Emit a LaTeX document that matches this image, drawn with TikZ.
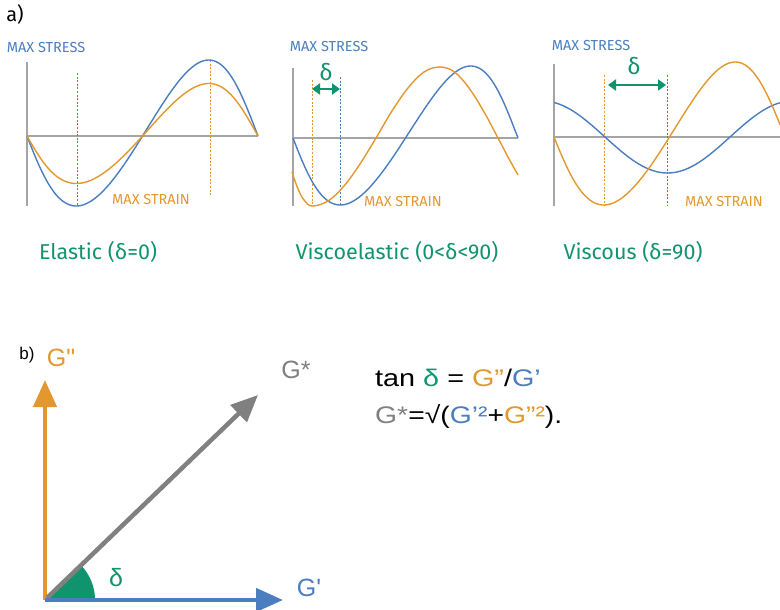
\documentclass[tikz,border=0pt]{standalone}
\usepackage{fontspec}
\setmainfont{Liberation Sans}
\newfontfamily\rawsans{Liberation Sans}
\newfontfamily\fira{Fira Sans}
\usetikzlibrary{arrows.meta}
\definecolor{cblue}{RGB}{74,126,192}
\definecolor{corange}{RGB}{226,152,46}
\definecolor{cgreen}{RGB}{16,148,110}
\definecolor{cgray}{RGB}{128,128,128}
\definecolor{caxis}{RGB}{165,165,165}
\tikzset{
  axisline/.style={caxis, line width=1.4pt},
  curve/.style={line width=1.4pt},
  vdot/.style={line width=1pt, dash pattern=on 2pt off 1.6pt},
  smallcap/.style={font=\fira\fontsize{14.5}{14.5}\selectfont, inner sep=0pt},
  caption/.style={font=\fira\fontsize{21.5}{21.5}\selectfont, cgreen, inner sep=0pt},
  deltalbl/.style={font=\fira\fontsize{23}{23}\selectfont, cgreen, inner sep=0pt},
  deltaarrow/.style={cgreen, line width=2.8pt, {Triangle[length=8pt,width=11pt]}-{Triangle[length=8pt,width=11pt]}},
  bigvec/.style={line width=4.5pt, -{Triangle[length=27pt,width=23pt]}},
  blabel/.style={font=\rawsans\fontsize{25}{25}\selectfont, inner sep=0pt},
  formula/.style={font=\fontsize{24}{24}\selectfont, inner sep=0pt, anchor=west},
}
\begin{document}
\begin{tikzpicture}[x=1pt,y=-1pt]
\useasboundingbox (0,0) rectangle (780,610);

\node[font=\fira\fontsize{20}{20}\selectfont, inner sep=0pt] (la) at (15,15) {a)};

% ---------- panel 1: elastic ----------
\coordinate (p1top) at (27,62); \coordinate (p1bot) at (27,206);
\coordinate (p1l) at (27,136); \coordinate (p1r) at (258,136);
\draw[axisline] (p1top) -- (p1bot);
\draw[axisline] (p1l) -- (p1r);
\coordinate (d1a) at (77,73); \coordinate (d1b) at (77,206);
\coordinate (d2a) at (210,60); \coordinate (d2b) at (210,195);
\draw[vdot, cblue] (d1a) -- (d1b);
\draw[vdot, corange] (d2a) -- (d2b);
\draw[curve, cblue] plot[domain=0:360,samples=120,variable=\t] ({27+0.641667*\t-8.5*sin(\t)},{136+(73-3*sin(\t))*sin(\t)});
\draw[curve, corange] plot[domain=0:360,samples=120,variable=\t] ({27+0.641667*\t-8.5*sin(\t)},{136+(50-2.5*sin(\t))*sin(\t)});
\node[smallcap, cblue] (ms1) at (46,48) {MAX STRESS};
\node[smallcap, corange] (mn1) at (151,200) {MAX STRAIN};
\node[caption] (c1) at (98,252) {Elastic (δ=0)};

% ---------- panel 2: viscoelastic ----------
\coordinate (p2top) at (293,68); \coordinate (p2bot) at (293,206);
\coordinate (p2l) at (293,138); \coordinate (p2r) at (518,138);
\draw[axisline] (p2top) -- (p2bot);
\draw[axisline] (p2l) -- (p2r);
\coordinate (e1a) at (312,80); \coordinate (e1b) at (312,206);
\coordinate (e2a) at (340,77); \coordinate (e2b) at (340,206);
\draw[vdot, corange] (e1a) -- (e1b);
\draw[vdot, cblue] (e2a) -- (e2b);
\draw[curve, cblue] plot[domain=0:360,samples=120,variable=\t] ({293+0.625*\t-9*sin(\t)},{138+(69.5-2.5*sin(\t))*sin(\t)});
\draw[curve, corange] plot[smooth, tension=0.6] coordinates {(292,172) (298,189) (304,200) (312,206) (328,201) (344,186) (360,164) (376,138) (392,111) (408,88) (424,72) (440,67) (454.5,72) (469,88) (483.5,111) (498,138) (508,157) (518,175)};
\coordinate (a2l) at (312,89); \coordinate (a2r) at (340,89);
\draw[deltaarrow] (a2l) -- (a2r);
\node[deltalbl] (dl2) at (326,72) {δ};
\node[smallcap, cblue] (ms2) at (329,47) {MAX STRESS};
\node[smallcap, corange] (mn2) at (403,202) {MAX STRAIN};
\node[caption] (c2) at (397,252) {Viscoelastic (0<δ<90)};

% ---------- panel 3: viscous ----------
\coordinate (p3top) at (554,64); \coordinate (p3bot) at (554,206);
\coordinate (p3l) at (554,137); \coordinate (p3r) at (780,137);
\draw[axisline] (p3top) -- (p3bot);
\draw[axisline] (p3l) -- (p3r);
\coordinate (f1a) at (604,75); \coordinate (f1b) at (604,206);
\coordinate (f2a) at (667,75); \coordinate (f2b) at (667,206);
\draw[vdot, corange] (f1a) -- (f1b);
\draw[vdot, cblue] (f2a) -- (f2b);
\draw[curve, cblue] plot[domain=554:780,samples=100] (\x,{137+36*cos(1.44*(\x-667.5))});
\draw[curve, corange] plot[domain=0:350,samples=120,variable=\t] ({554+0.641667*\t-8*sin(\t)},{137+(71.5-3.5*sin(\t))*sin(\t)});
\coordinate (a3l) at (608,85); \coordinate (a3r) at (666,85);
\draw[deltaarrow] (a3l) -- (a3r);
\node[deltalbl] (dl3) at (634,66) {δ};
\node[smallcap, cblue] (ms3) at (591,46) {MAX STRESS};
\node[smallcap, corange] (mn3) at (724,202) {MAX STRAIN};
\node[caption] (c3) at (633,252) {Viscous (δ=90)};

% ---------- panel b ----------
\node[font=\fontsize{17}{17}\selectfont, inner sep=0pt] (lb) at (27,355) {b)};
\coordinate (O) at (45,600);
\coordinate (Gpp) at (45,380);
\coordinate (Gp) at (283,600);
\coordinate (Gs0) at (47,598);
\coordinate (Gs) at (258,395);
\fill[cgreen] (O) -- plot[domain=0:44,samples=30] ({45+50*cos(\x)},{600-50*sin(\x)}) -- cycle;
\draw[bigvec, corange] (O) -- (Gpp);
\draw[bigvec, cgray] (Gs0) -- (Gs);
\draw[bigvec, cblue] (O) -- (Gp);
\node[blabel, corange] (lGpp) at (61,358) {G"};
\node[blabel, cgray] (lGs) at (296,370) {G*};
\node[blabel, cblue] (lGp) at (309,588) {G'};
\node[blabel, cgreen] (ld) at (116,578) {δ};

\node[formula] (f1) at (375,378) {\scalebox{1.2}[1]{tan \textcolor{cgreen}{δ} = \textcolor{corange}{G”}/\textcolor{cblue}{G’}}};
\node[formula] (f2) at (375,416) {\scalebox{1.18}[1]{\textcolor{cgray}{G*}=√(\textcolor{cblue}{G’²}+\textcolor{corange}{G”²}).}};
\end{tikzpicture}
\end{document}
